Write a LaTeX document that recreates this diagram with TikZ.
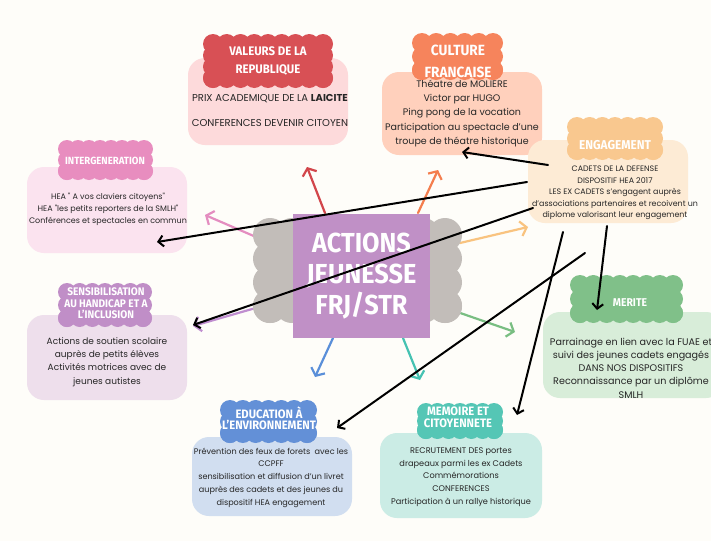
\documentclass[tikz,border=0pt]{standalone}
\usepackage{fontspec}
\usetikzlibrary{arrows.meta}
\newfontfamily\ttlf{Fira Sans}[FakeStretch=0.92]
\newfontfamily\bodyf{Poppins}
\definecolor{bgcol}{HTML}{FEFDF9}
\definecolor{txt}{HTML}{262626}
\definecolor{valC}{HTML}{D85055}\definecolor{valB}{HTML}{FDDADB}
\definecolor{culC}{HTML}{F6845C}\definecolor{culB}{HTML}{FFD0BC}
\definecolor{engC}{HTML}{F9C88F}\definecolor{engB}{HTML}{FDEBD5}
\definecolor{intC}{HTML}{E88DBF}\definecolor{intB}{HTML}{FBE3EF}
\definecolor{senC}{HTML}{C08EC7}\definecolor{senB}{HTML}{EEDFEC}
\definecolor{merC}{HTML}{80C089}\definecolor{merB}{HTML}{D8EDD9}
\definecolor{eduC}{HTML}{6390D7}\definecolor{eduB}{HTML}{D1DEF0}
\definecolor{memC}{HTML}{55C6B5}\definecolor{memB}{HTML}{CBECE5}
\definecolor{grayC}{HTML}{C2BDB9}\definecolor{purR}{HTML}{C090C6}
\definecolor{aRed}{HTML}{D2464B}\definecolor{aOra}{HTML}{F47E4E}
\definecolor{aPink}{HTML}{E48DC0}\definecolor{aLor}{HTML}{F9C37F}
\definecolor{aPur}{HTML}{C08ED0}\definecolor{aGrn}{HTML}{79BE82}
\definecolor{aBlu}{HTML}{5A8FD9}\definecolor{aTeal}{HTML}{45C2B2}
\newcommand{\puffcloud}[6]{%
  \pgfmathsetmacro\pcw{#3-#1-2*#5}%
  \pgfmathsetmacro\pch{#4-#2-2*#5}%
  \pgfmathtruncatemacro\pcnx{max(1,round(\pcw/(1.3*#5)))}%
  \pgfmathtruncatemacro\pcny{max(1,round(\pch/(1.3*#5)))}%
  \fill[#6] (#1+#5,#2+#5) rectangle (#3-#5,#4-#5);
  \foreach \i in {0,...,\pcnx}{%
    \fill[#6] ({#1+#5+\i*\pcw/\pcnx},{#2+#5}) circle[radius=#5pt];
    \fill[#6] ({#1+#5+\i*\pcw/\pcnx},{#4-#5}) circle[radius=#5pt];
  }
  \foreach \j in {1,...,\pcny}{%
    \fill[#6] ({#1+#5},{#2+#5+\j*\pch/\pcny}) circle[radius=#5pt];
    \fill[#6] ({#3-#5},{#2+#5+\j*\pch/\pcny}) circle[radius=#5pt];
  }
}
\tikzset{
  box/.style={rounded corners=17pt, inner sep=0pt},
  ttl/.style={text=white, align=center, inner sep=0pt},
  body/.style={text=txt, align=center, inner sep=0pt},
  carrow/.style={line width=2.2pt, line cap=round, -{Straight Barb[length=6pt,width=15pt]}},
  barrow/.style={line width=2pt, line cap=round, black, -{Straight Barb[length=5pt,width=11pt]}},
}
\begin{document}
\begin{tikzpicture}[x=1pt,y=-1pt]
\useasboundingbox (0,0) rectangle (711,541);
\fill[bgcol] (0,0) rectangle (711,541);
% boxes
\node[box, fill=valB, minimum width=160pt, minimum height=87pt] (valbox) at (268,101.5) {};
\node[box, fill=culB, minimum width=160pt, minimum height=83pt] (culbox) at (462,113.5) {};
\node[box, fill=engB, minimum width=160pt, minimum height=83pt] (engbox) at (608,181.5) {};
\node[box, fill=intB, minimum width=160pt, minimum height=86pt] (intbox) at (107,210) {};
\node[box, fill=senB, minimum width=160pt, minimum height=85pt] (senbox) at (107,357.5) {};
\node[box, fill=merB, minimum width=180pt, minimum height=86pt] (merbox) at (633,355) {};
\node[box, fill=eduB, minimum width=160pt, minimum height=79pt] (edubox) at (272,476.5) {};
\node[box, fill=memB, minimum width=162pt, minimum height=85pt] (membox) at (461,475.5) {};
% title clouds
\puffcloud{203}{34}{333}{88}{10}{valC}
\puffcloud{412}{33}{503}{80}{10}{culC}
\puffcloud{567}{117}{663}{160}{10}{engC}
\puffcloud{58}{140}{153}{180}{9}{intC}
\puffcloud{58}{283}{152}{327}{9}{senC}
\puffcloud{570}{275}{683}{323}{10}{merC}
\puffcloud{220}{400}{317}{443}{10}{eduC}
\puffcloud{417}{403}{503}{439}{9}{memC}
% titles
\node[ttl, font=\ttlf\bfseries\fontsize{12.4}{18}\selectfont] (valt) at (268,61) {VALEURS DE LA\\REPUBLIQUE};
\node[ttl, font=\ttlf\bfseries\fontsize{14.8}{22}\selectfont] (cult) at (458,61) {CULTURE\\FRANCAISE};
\node[ttl, font=\ttlf\bfseries\fontsize{12.8}{14}\selectfont] (engt) at (615,145) {ENGAGEMENT};
\node[ttl, font=\ttlf\bfseries\fontsize{10.4}{12}\selectfont] (intt) at (105,161) {INTERGENERATION};
\node[ttl, font=\ttlf\bfseries\fontsize{11}{11.5}\selectfont] (sent) at (106,303.5) {SENSIBILISATION\\AU HANDICAP ET A\\L’INCLUSION};
\node[ttl, font=\ttlf\bfseries\fontsize{11.3}{13}\selectfont] (mert) at (630,303) {MERITE};
\node[ttl, font=\ttlf\bfseries\fontsize{12.2}{11}\selectfont] (edut) at (269,418) {EDUCATION À\\L’ENVIRONNEMENT};
\node[ttl, font=\ttlf\bfseries\fontsize{12.2}{11.5}\selectfont] (memt) at (458,417.5) {MEMOIRE ET\\CITOYENNETE};
% body texts
\node[body, font=\bodyf\fontsize{10}{25}\selectfont] (valtx) at (270,110.5) {PRIX ACADEMIQUE DE LA \textbf{LAICITE}\\CONFERENCES DEVENIR CITOYEN};
\node[body, font=\bodyf\fontsize{9.5}{14.25}\selectfont] (cultx) at (462,113.5) {Théatre de MOLIERE\\Victor par HUGO\\Ping pong de la vocation\\Participation au spectacle d’une\\troupe de théatre historique};
\node[body, font=\bodyf\fontsize{7.9}{11.5}\selectfont] (engtx) at (615,193) {CADETS DE LA DEFENSE\\DISPOSITIF HEA 2017\\LES EX CADETS s’engagent auprès\\d’associations partenaires et recoivent un\\diplome valorisant leur engagement};
\node[body, font=\bodyf\fontsize{8}{12}\selectfont] (inttx) at (108,209) {HEA " A vos claviers citoyens"\\HEA "les petits reporters de la SMLH"\\Conférences et spectacles en commun};
\node[body, font=\bodyf\fontsize{9}{13.3}\selectfont] (sentx) at (107,362) {Actions de soutien scolaire\\auprès de petits élèves\\Activités motrices avec de\\jeunes autistes};
\node[body, font=\bodyf\fontsize{9.6}{13.25}\selectfont] (mertx) at (631,368) {Parrainage en lien avec la FUAE et\\suivi des jeunes cadets engagés\\DANS NOS DISPOSITIFS\\Reconnaissance par un diplôme\\SMLH};
\node[body, font=\bodyf\fontsize{8.1}{12.75}\selectfont] (edutx) at (271,477.5) {Prévention des feux de forets\ \ avec les\\CCPFF\\sensibilisation et diffusion d’un livret\\auprès des cadets et des jeunes du\\dispositif HEA engagement};
\node[body, font=\bodyf\fontsize{8.2}{12.75}\selectfont] (memtx) at (461,477) {RECRUTEMENT DES portes\\drapeaux parmi les ex Cadets\\Commémorations\\CONFERENCES\\Participation à un rallye historique};
% coloured arrows from the centre
\coordinate (sRed) at (325,213); \coordinate (eRed) at (307,167);
\coordinate (sOra) at (418,213); \coordinate (eOra) at (438,170);
\coordinate (sPink) at (263,240); \coordinate (ePink) at (205,215);
\coordinate (sLor) at (460,243); \coordinate (eLor) at (528,227);
\coordinate (sPur) at (273,303); \coordinate (ePur) at (193,326);
\coordinate (sGrn) at (443,307); \coordinate (eGrn) at (515,332);
\coordinate (sBlu) at (333,338); \coordinate (eBlu) at (315,377);
\coordinate (sTeal) at (403,338); \coordinate (eTeal) at (420,380);
\draw[carrow, aRed] (sRed) -- (eRed);
\draw[carrow, aOra] (sOra) -- (eOra);
\draw[carrow, aPink] (sPink) -- (ePink);
\draw[carrow, aLor] (sLor) -- (eLor);
\draw[carrow, aPur] (sPur) -- (ePur);
\draw[carrow, aGrn] (sGrn) -- (eGrn);
\draw[carrow, aBlu] (sBlu) -- (eBlu);
\draw[carrow, aTeal] (sTeal) -- (eTeal);
% centre
\puffcloud{253}{218}{462}{323}{17}{grayC}
\node[fill=purR, minimum width=137pt, minimum height=124pt, inner sep=0pt] (centre) at (361.5,276) {};
\node[ttl, font=\ttlf\bfseries\fontsize{27.5}{31}\selectfont] (centt) at (361.5,276) {ACTIONS\\JEUNESSE\\FRJ/STR};
% black arrows from ENGAGEMENT
\coordinate (b1) at (548,165); \coordinate (t1) at (462,152);
\coordinate (b2) at (527,182); \coordinate (t2) at (157,242);
\coordinate (b3) at (533,208); \coordinate (t3) at (193,325);
\coordinate (b4) at (585,253); \coordinate (t4) at (337,428);
\coordinate (b5) at (563,232); \coordinate (t5) at (517,415);
\coordinate (b6) at (607,226); \coordinate (t6) at (597,310);
\draw[barrow] (b1) -- (t1);
\draw[barrow] (b2) -- (t2);
\draw[barrow] (b3) -- (t3);
\draw[barrow] (b4) -- (t4);
\draw[barrow] (b5) -- (t5);
\draw[barrow] (b6) -- (t6);
\end{tikzpicture}
\end{document}
